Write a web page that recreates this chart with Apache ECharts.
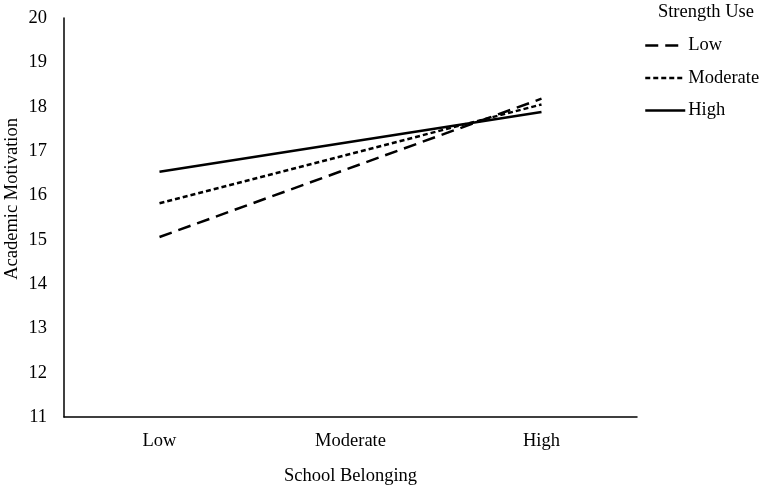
<!DOCTYPE html>
<html>

<head>
    <meta charset="UTF-8">
    <style type="text/css">
        body {
            margin: 0;
            padding: 0;
            overflow: hidden;
            background: #fff;
        }

        #chart {
            width: 762px;
            height: 487px;
        }
    </style>
</head>

<body>
    <div id="chart"></div>
    <script src="https://cdn.jsdelivr.net/npm/echarts@6/dist/echarts.min.js"></script>
    <script>
        // school belonging levels (x axis)
        let categories = ['Low', 'Moderate', 'High'];
        // academic motivation by strength use; the middle point lies on the straight line
        let lowUse = [15.06, null, 18.18];
        let moderateUse = [15.82, null, 18.05];
        let highUse = [16.53, null, 17.88];

        let FONT = 'Liberation Serif';
        var myChart = echarts.init(document.getElementById('chart'));

        function makeSeries(name, data, dash) {
            return {
                name: name,
                type: 'line',
                data: data,
                connectNulls: true,
                symbol: 'none',
                lineStyle: {
                    color: '#000',
                    width: 2.5,
                    type: dash
                },
                itemStyle: { color: '#000' }
            };
        }

        let option = {
            animation: false,
            backgroundColor: '#fff',
            textStyle: { fontFamily: FONT },
            title: {
                text: 'Strength Use',
                right: 3,
                top: -2,
                textStyle: { fontFamily: FONT, fontSize: 18.5, fontWeight: 'normal', color: '#000' }
            },
            legend: {
                orient: 'vertical',
                left: 644,
                top: 36,
                padding: 0,
                itemWidth: 40,
                itemHeight: 14,
                itemGap: 13.5,
                itemStyle: { opacity: 0 },
                lineStyle: { width: 2.5 },
                textStyle: { fontFamily: FONT, fontSize: 18.5, color: '#000', padding: [0, 0, 0, -2] },
                data: ['Low', 'Moderate', 'High']
            },
            graphic: [{
                type: 'text',
                left: 3,
                top: 118,
                rotation: Math.PI / 2,
                style: {
                    text: 'Academic Motivation',
                    fontFamily: FONT,
                    fontSize: 18.5,
                    fill: '#000'
                }
            }],
            grid: {
                left: 64,
                right: 125,
                top: 18,
                bottom: 70,
                containLabel: false,
                outerBoundsMode: 'none'
            },
            xAxis: {
                type: 'category',
                data: categories,
                boundaryGap: true,
                name: 'School Belonging',
                nameLocation: 'middle',
                nameGap: 50,
                nameTextStyle: { fontFamily: FONT, fontSize: 18.5, color: '#000' },
                axisLine: { lineStyle: { color: '#000', width: 1.5 } },
                axisTick: { show: false },
                axisLabel: { fontFamily: FONT, fontSize: 18.5, color: '#000', margin: 15 }
            },
            yAxis: {
                type: 'value',
                min: 11,
                max: 20,
                interval: 1,
                axisLine: { show: true, lineStyle: { color: '#000', width: 1.5 } },
                axisTick: { show: false },
                splitLine: { show: false },
                axisLabel: { fontFamily: FONT, fontSize: 18.5, color: '#000', margin: 17 }
            },
            series: [
                makeSeries('Low', lowUse, [13, 7]),
                makeSeries('Moderate', moderateUse, [5, 3]),
                makeSeries('High', highUse, 'solid')
            ]
        };
        myChart.setOption(option);
    </script>
</body>

</html>
